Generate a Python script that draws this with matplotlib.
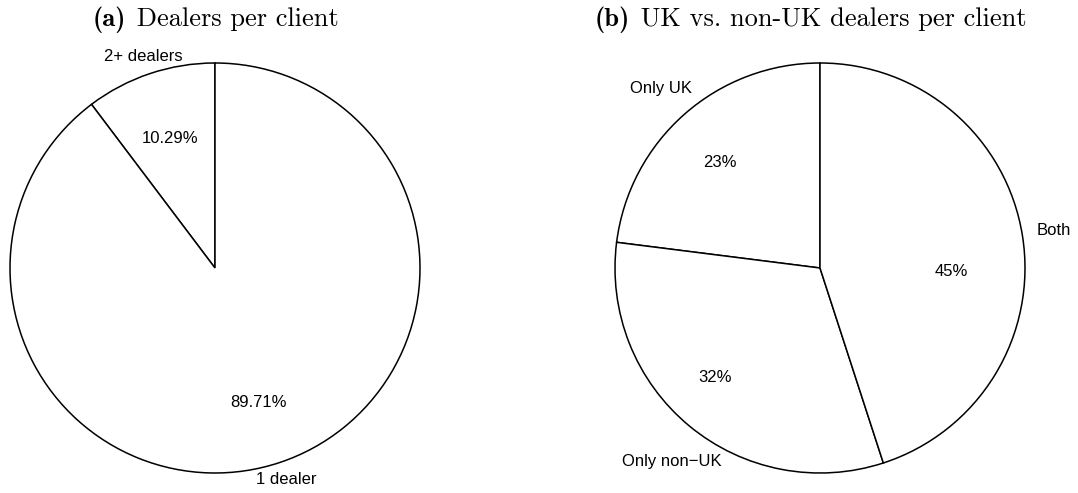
import matplotlib
matplotlib.use("Agg")
import matplotlib.pyplot as plt
import numpy as np

# Data
labels_a = ["2+ dealers", "1 dealer"]
values_a = [10.29, 89.71]
pct_a = ["10.29%", "89.71%"]

labels_b = ["Only UK", "Only non\u2212UK", "Both"]
values_b = [23, 32, 45]
pct_b = ["23%", "32%", "45%"]

title_a = ("(a)", "Dealers per client")
title_b = ("(b)", "UK vs. non-UK dealers per client")

W, H = 1078, 493
fig = plt.figure(figsize=(W / 100, H / 100), dpi=100)
R = 205.0  # pie radius in px
LIM = 1.35

def add_pie_axes(cx, cy):
    size = 2 * LIM * R
    ax = fig.add_axes([(cx - size / 2) / W, (H - cy - size / 2) / H, size / W, size / H])
    ax.set_xlim(-LIM, LIM)
    ax.set_ylim(-LIM, LIM)
    ax.set_aspect('equal')
    ax.axis('off')
    return ax

sans = ['Liberation Sans', 'DejaVu Sans']
FS = 12

def draw(ax, values, labels, pcts, lab_pos, pct_pos):
    wedges, _ = ax.pie(values, startangle=90, counterclock=True,
                       colors=['white'] * len(values),
                       wedgeprops=dict(edgecolor='black', linewidth=1.1),
                       radius=1.0, center=(0, 0), frame=True)
    ax.set_xlim(-LIM, LIM)
    ax.set_ylim(-LIM, LIM)
    ax.axis('off')
    for w, lab, pct, (lang, lr), (pang, pr) in zip(wedges, labels, pcts, lab_pos, pct_pos):
        mid = 0.5 * (w.theta1 + w.theta2)
        a = np.deg2rad(mid + lang)
        ax.text(lr * np.cos(a), lr * np.sin(a), lab, ha='center', va='center',
                fontsize=FS, family=sans)
        a = np.deg2rad(mid + pang)
        ax.text(pr * np.cos(a), pr * np.sin(a), pct, ha='center', va='center',
                fontsize=FS, family=sans)

ax1 = add_pie_axes(215, 268)
draw(ax1, values_a, labels_a, pct_a,
     lab_pos=[(0.3, 1.09), (0.0, 1.09)],
     pct_pos=[(0.4, 0.67), (-0.5, 0.69)])

ax2 = add_pie_axes(820, 268)
draw(ax2, values_b, labels_b, pct_b,
     lab_pos=[(0.2, 1.17), (2.2, 1.19), (0.0, 1.155)],
     pct_pos=[(1.9, 0.71), (-4.4, 0.74), (-10.7, 0.64)])

# Titles: bold tag + roman text, centred as a whole
renderer = fig.canvas.get_renderer()
TFS = 19
def title(cx, cy, parts):
    y = 1 - cy / H
    t1 = fig.text(0, y, parts[0], fontsize=TFS, family='cmb10', va='baseline')
    t2 = fig.text(0, y, " " + parts[1], fontsize=TFS, family='cmr10', va='baseline')
    w1 = t1.get_window_extent(renderer).width
    w2 = t2.get_window_extent(renderer).width
    left = cx - (w1 + w2) / 2
    t1.set_x(left / W)
    t2.set_x((left + w1 + 2) / W)

title(215, 26, title_a)
title(810, 26, title_b)

fig.savefig('out.png', dpi=100, facecolor='white')
